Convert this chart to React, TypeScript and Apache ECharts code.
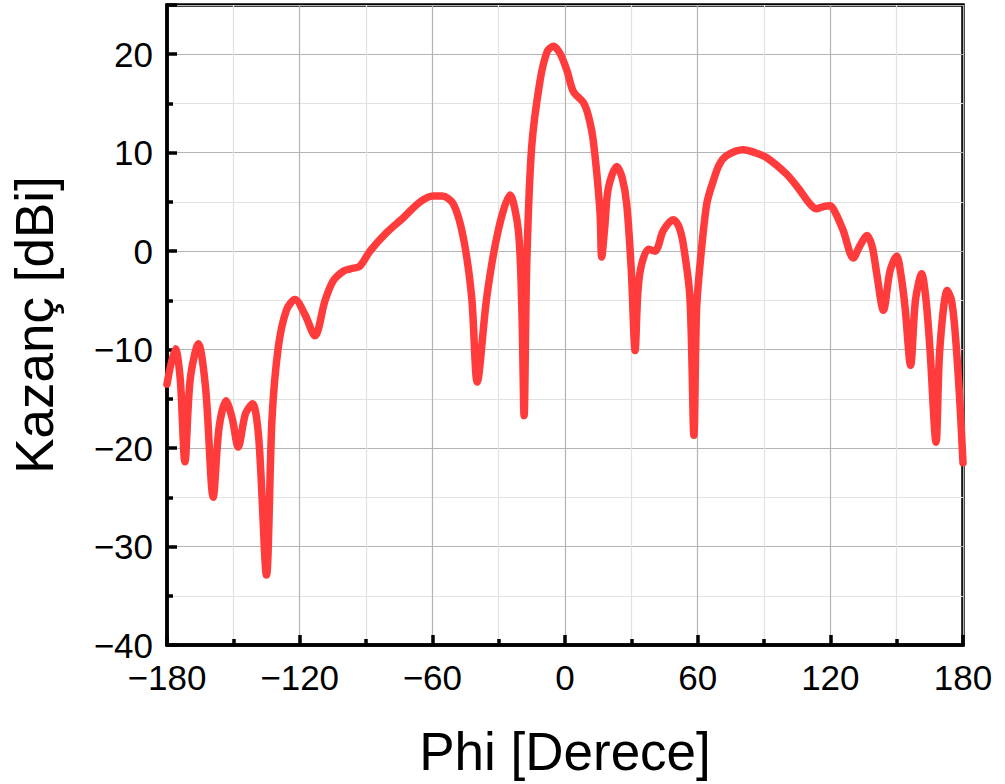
import React, { useEffect, useRef } from "react";
import * as echarts from "echarts";

const phi: number[] = [
  -180, -176.2, -174, -171.9, -169.5, -165.8, -162.5, -159.1, -156.5, -153.3,
  -150.5, -147.8, -144.5, -141.3, -138.5, -135, -132.5, -129.7, -126, -122.1,
  -117.5, -113.1, -108.5, -104.8, -100, -97, -92.7, -88.2, -80.6, -73.1,
  -65.6, -59.6, -55.5, -50.5, -46, -42.2, -39.7, -35.4, -30.2,
  -24.9, -21.1, -19.5, -18.5, -17.3, -15.1, -11.3, -8, -5.3, -2.3,
  0.8, 3.8, 8.3, 10.5, 12.8, 15.8, 16.6, 18, 19.6, 23.4,
  25.8, 27.9, 30, 31.7, 33, 34.7, 37.7, 40.7, 44.5, 49,
  51.5, 53.5, 56.5, 58.3, 59.5, 61.1, 64.1, 67, 69.8, 73.1,
  80.6, 86, 91.2, 100.3, 105.5, 110.8, 113.8, 116.5, 119.9, 122.5,
  125.8, 130.4, 133.5, 136.7, 139, 141, 144, 147, 150, 152,
  153.8, 156.3, 158.5, 161.3, 163.3, 165.1, 167.8, 169.5, 172.9, 174.8,
  176.4, 178.5, 180,
];

const gain: number[] = [
  -13.5, -9.9, -13, -21.4, -13, -9.4, -14, -25.0, -18, -15.2,
  -17, -19.9, -16.5, -15.5, -19, -32.9, -17, -9.8, -6, -4.9,
  -6.5, -8.6, -5, -3.0, -2, -1.8, -1.5, 0, 1.9, 3.4,
  5.0, 5.6, 5.6, 4.8, 1.4, -4.7, -13.3, -4.7, 2.1,
  5.7, 2.1, -6, -16.7, -1.3, 10.5, 17.3, 20.3, 20.8, 20.1,
  18.4, 16.2, 15.1, 13.8, 11.2, 4.1, -0.6, 2.5, 6.4, 8.6,
  7.5, 4.8, -2, -10.1, -4, -1.3, 0.2, 0, 2.1, 3.2,
  2.5, 0.7, -4.7, -18.7, -6, -1.3, 4.8, 7.1, 8.8, 9.7,
  10.3, 10.0, 9.5, 7.8, 6.4, 4.8, 4.3, 4.5, 4.6, 3.8,
  2.1, -0.7, 0.6, 1.6, 0.4, -2.3, -6.0, -2, -0.5, -2.5,
  -5.7, -11.6, -5, -2.3, -5, -10.1, -19.4, -10, -4.0, -5,
  -8.1, -15, -21.5,
];

const xTicks = { min: -180, max: 180, interval: 60 };
const yTicks = { min: -40, max: 25, interval: 10 };

const xTitle = "Phi [Derece]";
const yTitle = "Kazanç [dBi]";

const FONT = "Liberation Sans, Arial, sans-serif";

export default function App() {
  const ref = useRef<HTMLDivElement>(null);

  useEffect(() => {
    if (!ref.current) return;
    const chart = echarts.init(ref.current, undefined, { renderer: "svg" });
    const data = phi.map((p, i) => [p, gain[i]]);
    const fmt = (v: number) => String(v).replace("-", "\u2212");
    chart.setOption({
      animation: false,
      backgroundColor: "#ffffff",
      grid: {
        left: 167,
        right: 42,
        top: 5,
        bottom: 139,
        show: true,
        borderColor: "#000000",
        borderWidth: 3.5,
        backgroundColor: "transparent",
      },
      xAxis: {
        type: "value",
        min: xTicks.min,
        max: xTicks.max,
        interval: xTicks.interval,
        name: xTitle,
        nameLocation: "middle",
        nameGap: 80,
        nameTextStyle: { fontFamily: FONT, fontSize: 53, color: "#000" },
        axisLine: { show: true, onZero: false, lineStyle: { color: "#000", width: 3.5 } },
        axisTick: { show: true, inside: true, length: 10, lineStyle: { color: "#000", width: 3.5 } },
        minorTick: { show: true, splitNumber: 2, length: 6, lineStyle: { color: "#000", width: 3.5 } },
        axisLabel: {
          fontFamily: FONT,
          fontSize: 35,
          color: "#000",
          margin: 15,
          formatter: fmt,
        },
        splitLine: { show: true, lineStyle: { color: "#b4b4b4", width: 1.2 } },
        minorSplitLine: { show: true, lineStyle: { color: "#e2e2e2", width: 1.2 } },
      },
      yAxis: {
        type: "value",
        min: yTicks.min,
        max: yTicks.max,
        interval: yTicks.interval,
        name: yTitle,
        nameLocation: "middle",
        nameGap: 106,
        nameTextStyle: { fontFamily: FONT, fontSize: 53, color: "#000" },
        axisLine: { show: true, onZero: false, lineStyle: { color: "#000", width: 3.5 } },
        axisTick: { show: true, inside: true, length: 10, lineStyle: { color: "#000", width: 3.5 } },
        minorTick: { show: true, splitNumber: 2, length: 6, lineStyle: { color: "#000", width: 3.5 } },
        axisLabel: {
          fontFamily: FONT,
          fontSize: 35,
          color: "#000",
          margin: 14,
          showMaxLabel: false,
          formatter: (v: number) => (v % 10 === 0 ? fmt(v) : ""),
        },
        splitLine: { show: true, lineStyle: { color: "#b4b4b4", width: 1.2 } },
        minorSplitLine: { show: true, lineStyle: { color: "#e2e2e2", width: 1.2 } },
      },
      series: [
        {
          type: "line",
          data,
          smooth: 0.3,
          showSymbol: false,
          symbol: "none",
          clip: true,
          lineStyle: { color: "#ff3b3b", width: 7.5, cap: "round", join: "round" },
        },
      ],
    });
    return () => chart.dispose();
  }, []);

  return (
    <div
      ref={ref}
      style={{ position: "fixed", left: 0, top: 0, width: 1005, height: 784 }}
    />
  );
}
